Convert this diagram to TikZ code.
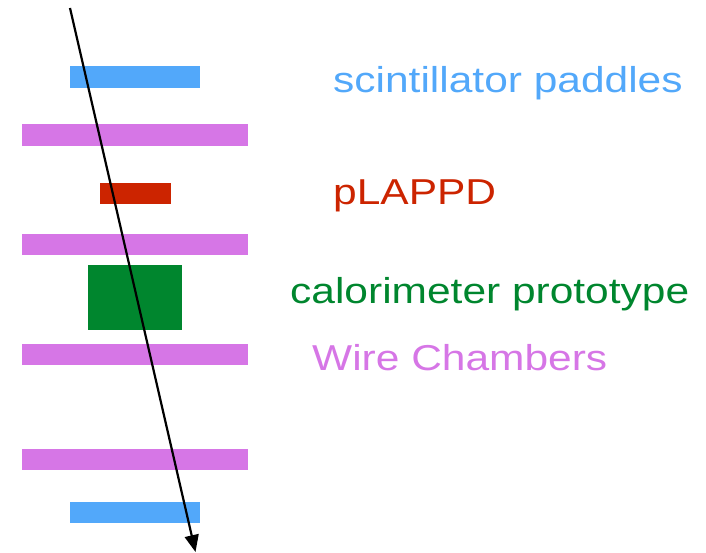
\documentclass[tikz,border=0pt]{standalone}
\usepackage{fontspec}
\setmainfont{Liberation Sans}
\newfontfamily\widesans[FakeStretch=1.18]{Liberation Sans}
\usetikzlibrary{arrows.meta}
\definecolor{scblue}{RGB}{82,168,250}
\definecolor{wcmag}{RGB}{214,118,230}
\definecolor{lapred}{RGB}{204,36,0}
\definecolor{calgreen}{RGB}{0,134,46}
\tikzset{
  bar/.style={draw=none,inner sep=0pt,outer sep=0pt,minimum height=21.5pt},
  lab/.style={anchor=base west,inner sep=0pt,font=\widesans\fontsize{36}{40}\selectfont},
}
\begin{document}
\begin{tikzpicture}[x=1pt,y=-1pt]
\useasboundingbox (0,0) rectangle (706,553);
% scintillator paddles
\node[bar,fill=scblue,minimum width=130pt] (sc1) at (135,77) {};
\node[bar,fill=scblue,minimum width=130pt] (sc2) at (135,512.5) {};
% wire chambers
\node[bar,fill=wcmag,minimum width=226pt] (wc1) at (135,135) {};
\node[bar,fill=wcmag,minimum width=226pt] (wc2) at (135,244.5) {};
\node[bar,fill=wcmag,minimum width=226pt] (wc3) at (135,354.5) {};
\node[bar,fill=wcmag,minimum width=226pt] (wc4) at (135,459.5) {};
% pLAPPD
\node[bar,fill=lapred,minimum width=71pt] (lap) at (135.5,193.5) {};
% calorimeter
\node[draw=none,fill=calgreen,inner sep=0pt,minimum width=94pt,minimum height=65pt] (cal) at (135,297.5) {};
% labels
\node[lab,text=scblue] (tsc) at (333,93) {scintillator paddles};
\node[lab,text=lapred] (tlap) at (333,205) {pLAPPD};
\node[lab,text=calgreen] (tcal) at (290,303) {calorimeter prototype};
\node[lab,text=wcmag] (twc) at (312,370) {Wire Chambers};
% track
\coordinate (tstart) at (70,8);
\coordinate (tend) at (195.5,552);
\draw[line width=2.2pt,-{Triangle[length=17pt,width=14pt]}] (tstart) -- (tend);
\end{tikzpicture}
\end{document}
